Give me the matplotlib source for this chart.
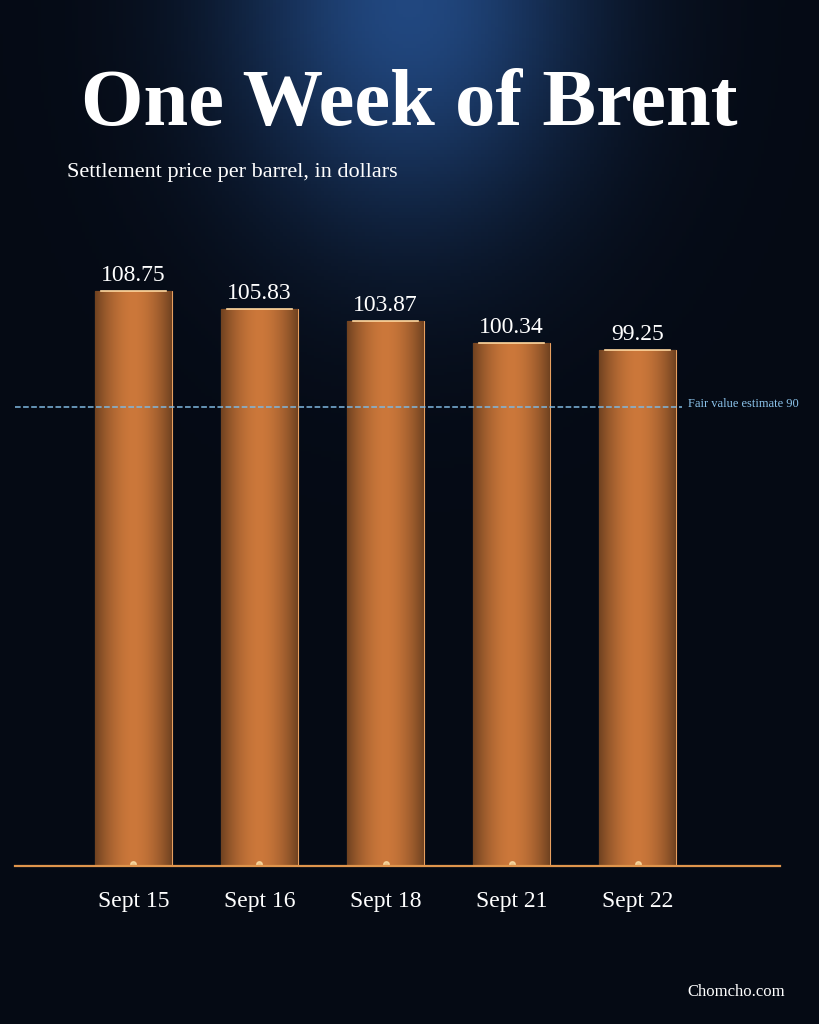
import numpy as np
import matplotlib.pyplot as plt

days = ['Sept 15', 'Sept 16', 'Sept 18', 'Sept 21', 'Sept 22']
prices = [108.75, 105.83, 103.87, 100.34, 99.25]
fair_value = 90

serif = 'Liberation Serif'
fig = plt.figure(figsize=(8.19, 10.24), dpi=100)

# background: navy with a glow at the top centre
bg = fig.add_axes([0, 0, 1, 1])
yy, xx = np.mgrid[0:1:300j, 0:1:240j]
glow = np.exp(-(((xx - 0.5) / 0.22) ** 2 + (yy / 0.22) ** 2))
base = np.array([0.02, 0.04, 0.08])
top = np.array([0.13, 0.28, 0.50])
img = base + glow[..., None] * (top - base)
bg.imshow(img, extent=[0, 1, 0, 1], aspect='auto', origin='upper')
bg.axis('off')

ax = fig.add_axes([15 / 819, 0.154, 765 / 819, 676 / 1024])
ax.set_facecolor('none')
x = np.arange(len(days))
bars = ax.bar(x, prices, width=0.61, bottom=0, color='#b86a30',
              edgecolor='#e8a060', linewidth=0.8, zorder=2)
ax.set_xlim(-0.94, 5.13)
ax.set_ylim(16, 125)

# copper gradient across each bar
g = np.linspace(0, 1, 200)
shade = 1 - 0.45 * (np.abs(g - 0.5) * 2) ** 1.8
copper = np.array([0.80, 0.47, 0.23])
grad = np.clip(copper[None, None, :] * shade[None, :, None], 0, 1)
for b in bars:
    x0, w, h = b.get_x(), b.get_width(), b.get_height()
    im = ax.imshow(grad, extent=[x0, x0 + w, 16, h], aspect='auto', zorder=3)
    im.set_clip_path(b)
    ax.plot(x0 + w / 2, 16.3, 'o', ms=4, color='#ffe8b0', alpha=0.7, zorder=4)
    ax.plot([x0 + 0.05, x0 + w - 0.05], [h, h], color='#ffd8a0', lw=1.2, zorder=4)
    ax.text(x0 + w / 2, h + 0.8, f'{h:.2f}', ha='center', va='bottom',
            color='white', fontsize=17, family=serif, zorder=5)

ax.plot([-0.94, 4.35], [fair_value, fair_value], color='#7fb8e0', ls='--',
        lw=1.1, zorder=4)
ax.text(4.40, fair_value + 0.6, f'Fair value estimate {fair_value}', ha='left',
        va='center', color='#8cc4ec', fontsize=9, family=serif,
        clip_on=False, zorder=5)
ax.axhline(16, color='#e0954c', lw=1.6, zorder=5, clip_on=False)

ax.set_xticks(x)
ax.set_xticklabels(days, color='white', fontsize=17, family=serif)
ax.tick_params(length=0, pad=18)
ax.set_yticks([])
for s in ax.spines.values():
    s.set_visible(False)

fig.text(0.5, 0.897, 'One Week of Brent', ha='center', va='center',
         color='white', fontsize=58, fontweight='bold', family=serif)
fig.text(67 / 819, 0.832, 'Settlement price per barrel, in dollars',
         ha='left', va='center', color='white', fontsize=16, family=serif)
fig.text(785 / 819, 0.031, 'Chomcho.com', ha='right', va='center',
         color='white', fontsize=12, family=serif)

fig.savefig('out.png', dpi=100)
